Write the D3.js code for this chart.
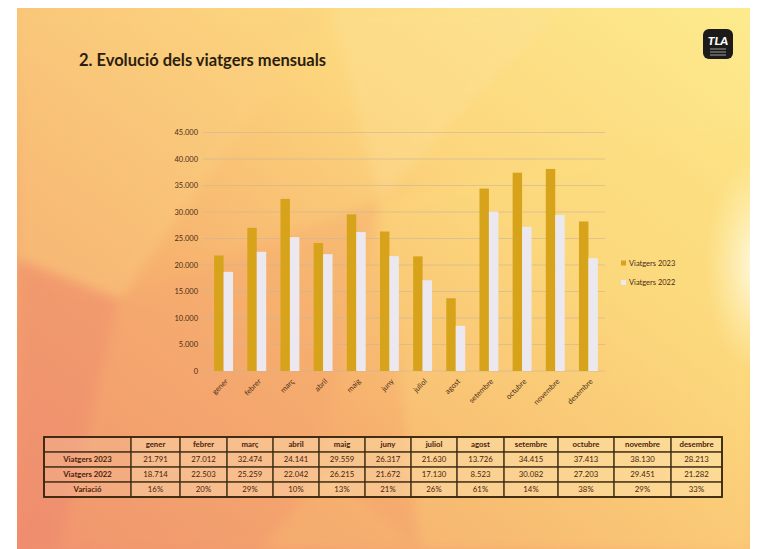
<html>
<head>
    <title>Evolució dels viatgers mensuals</title>
    <script src="https://d3js.org/d3.v7.min.js"></script>
    <style>
        body { margin: 0; background: #ffffff; }
        text { font-family: Lato, "Open Sans", sans-serif; }
    </style>
</head>
<body>
    <svg width="760" height="549"></svg>

    <script>

        // data
        const months = ['gener', 'febrer', 'març', 'abril', 'maig', 'juny', 'juliol', 'agost',
                        'setembre', 'octubre', 'novembre', 'desembre'];
        const viatgers2023 = [21791, 27012, 32474, 24141, 29559, 26317, 21630, 13726, 34415, 37413, 38130, 28213];
        const viatgers2022 = [18714, 22503, 25259, 22042, 26215, 21672, 17130, 8523, 30082, 27203, 29451, 21282];
        const variacio = ['16%', '20%', '29%', '10%', '13%', '21%', '26%', '61%', '14%', '38%', '29%', '33%'];
        const seriesNames = ['Viatgers 2023', 'Viatgers 2022'];
        const yTicks = [0, 5000, 10000, 15000, 20000, 25000, 30000, 35000, 40000, 45000];

        const colors = ['#d7a31b', '#ebe8ef'];
        const inkColor = '#4a2c14';

        const locale = d3.formatLocale({ decimal: ',', thousands: '.', grouping: [3], currency: ['', ''] });
        const fmt = locale.format(',d');

        const svg = d3.select('svg');
        const defs = svg.append('defs');

        // ---- slide background ----
        const grad = defs.append('linearGradient')
            .attr('id', 'bg').attr('x1', '0%').attr('y1', '100%').attr('x2', '100%').attr('y2', '0%');
        grad.append('stop').attr('offset', '0%').attr('stop-color', '#ef8f6f');
        grad.append('stop').attr('offset', '35%').attr('stop-color', '#f6b06e');
        grad.append('stop').attr('offset', '65%').attr('stop-color', '#fcd57c');
        grad.append('stop').attr('offset', '100%').attr('stop-color', '#fdeb8e');

        const glow = defs.append('radialGradient').attr('id', 'glow');
        glow.append('stop').attr('offset', '0%').attr('stop-color', '#fffdf0').attr('stop-opacity', 0.95);
        glow.append('stop').attr('offset', '100%').attr('stop-color', '#fff6c0').attr('stop-opacity', 0);

        const blur = defs.append('filter').attr('id', 'soft')
            .attr('x', '-10%').attr('y', '-10%').attr('width', '120%').attr('height', '120%');
        blur.append('feGaussianBlur').attr('stdDeviation', 6);

        const clip = defs.append('clipPath').attr('id', 'slideClip');

        const slide = { x: 17, y: 8, w: 733, h: 541 };
        clip.append('rect')
            .attr('x', slide.x).attr('y', slide.y)
            .attr('width', slide.w).attr('height', slide.h);

        svg.append('rect')
            .attr('x', slide.x).attr('y', slide.y)
            .attr('width', slide.w).attr('height', slide.h)
            .attr('fill', 'url(#bg)');

        // a few faint facets, like the low-poly template
        const facets = [
            { pts: [[17, 8], [330, 8], [120, 300], [17, 260]], fill: '#fbd083', op: 0.4 },
            { pts: [[17, 260], [120, 300], [60, 549], [17, 549]], fill: '#ee8a6e', op: 0.45 },
            { pts: [[330, 8], [560, 8], [380, 200]], fill: '#fde3a0', op: 0.3 },
            { pts: [[120, 300], [380, 200], [300, 549], [60, 549]], fill: '#f4a26e', op: 0.3 },
            { pts: [[380, 200], [750, 120], [750, 549], [420, 549]], fill: '#fde17e', op: 0.25 },
            { pts: [[260, 549], [330, 470], [420, 549]], fill: '#f7b870', op: 0.45 }
        ];
        svg.append('g')
            .attr('clip-path', 'url(#slideClip)')
            .selectAll('polygon')
            .data(facets)
            .join('polygon')
            .attr('points', d => d.pts.map(p => p.join(',')).join(' '))
            .attr('fill', d => d.fill)
            .attr('opacity', d => d.op)
            .attr('filter', 'url(#soft)');

        svg.append('ellipse')
            .attr('clip-path', 'url(#slideClip)')
            .attr('cx', 760).attr('cy', 265)
            .attr('rx', 55).attr('ry', 110)
            .attr('fill', 'url(#glow)');

        // ---- title and logo ----
        svg.append('text')
            .attr('x', 79).attr('y', 66)
            .attr('font-size', 16.5).attr('font-weight', 700)
            .attr('fill', '#2b1e0e')
            .text('2. Evolució dels viatgers mensuals');

        const logo = svg.append('g').attr('transform', 'translate(703,29)');
        logo.append('rect').attr('width', 30).attr('height', 30).attr('rx', 6).attr('fill', '#1d1b19');
        logo.append('text')
            .attr('x', 15).attr('y', 16).attr('text-anchor', 'middle')
            .attr('font-size', 12).attr('font-weight', 900).attr('font-style', 'italic')
            .attr('fill', '#ffffff').text('TLA');
        logo.selectAll('line.sub')
            .data([20, 23, 26])
            .join('line')
            .attr('class', 'sub')
            .attr('x1', 7).attr('x2', 23)
            .attr('y1', d => d).attr('y2', d => d)
            .attr('stroke', '#8b8a86').attr('stroke-width', 1.2);

        // ---- bar chart ----
        const plot = { left: 207, right: 605, top: 132.5, bottom: 371 };

        const x = d3.scaleBand()
            .domain(months)
            .range([plot.left, plot.right])
            .paddingInner(0.43)
            .paddingOuter(0.215);

        const xSub = d3.scaleBand()
            .domain(seriesNames)
            .range([0, x.bandwidth()]);

        const y = d3.scaleLinear()
            .domain([0, 45000])
            .range([plot.bottom, plot.top]);

        const chartG = svg.append('g');

        chartG.append('g')
            .selectAll('line')
            .data(yTicks)
            .join('line')
            .attr('x1', plot.left - 4).attr('x2', plot.right)
            .attr('y1', d => y(d)).attr('y2', d => y(d))
            .attr('stroke', '#c9b49c').attr('stroke-opacity', 0.6).attr('stroke-width', 1);

        const yAxis = d3.axisLeft(y)
            .tickValues(yTicks)
            .tickFormat(fmt)
            .tickSize(0)
            .tickPadding(9);

        chartG.append('g')
            .attr('transform', `translate(${plot.left},0)`)
            .call(yAxis)
            .call(g => g.select('.domain').remove())
            .call(g => g.selectAll('text')
                .attr('font-size', 7.5)
                .attr('fill', inkColor));

        const rows = months.map((m, i) => ({ month: m, values: [viatgers2023[i], viatgers2022[i]] }));

        chartG.append('g')
            .selectAll('g')
            .data(rows)
            .join('g')
            .attr('transform', d => `translate(${x(d.month)},0)`)
            .selectAll('rect')
            .data(d => d.values.map((v, k) => ({ key: seriesNames[k], value: v, k })))
            .join('rect')
            .attr('x', d => xSub(d.key))
            .attr('width', xSub.bandwidth())
            .attr('y', d => y(d.value))
            .attr('height', d => y(0) - y(d.value))
            .attr('fill', d => colors[d.k]);

        const xAxis = d3.axisBottom(x).tickSize(0).tickPadding(0);

        chartG.append('g')
            .attr('transform', `translate(0,${plot.bottom + 9})`)
            .call(xAxis)
            .call(g => g.select('.domain').remove())
            .call(g => g.selectAll('text')
                .attr('font-size', 7.5)
                .attr('fill', inkColor)
                .attr('text-anchor', 'end')
                .attr('dy', '0.35em')
                .attr('transform', 'translate(3,0) rotate(-45)'));

        // legend
        const legend = svg.append('g').attr('transform', 'translate(621,263)');
        const legendItem = legend.selectAll('g')
            .data(seriesNames)
            .join('g')
            .attr('transform', (d, i) => `translate(0,${i * 19.5})`);
        legendItem.append('rect')
            .attr('x', 0).attr('y', -2.5)
            .attr('width', 5).attr('height', 5)
            .attr('fill', (d, i) => colors[i]);
        legendItem.append('text')
            .attr('x', 8).attr('dy', '0.35em')
            .attr('font-size', 7.5)
            .attr('fill', inkColor)
            .text(d => d);

        // ---- data table ----
        const colWidths = [87, 49, 47, 46, 46, 46, 46, 46, 47, 54, 56, 57, 51];
        const colX = [44];
        colWidths.forEach((w, i) => colX.push(colX[i] + w));
        const rowH = 15;
        const tableTop = 437;

        const tableRows = [
            { label: '', cells: months, bold: true },
            { label: 'Viatgers 2023', cells: viatgers2023.map(fmt), bold: false },
            { label: 'Viatgers 2022', cells: viatgers2022.map(fmt), bold: false },
            { label: 'Variació', cells: variacio, bold: false }
        ];

        const tableG = svg.append('g');

        tableRows.forEach((row, r) => {
            const ry = tableTop + r * rowH;
            const rowG = tableG.append('g');
            const all = [row.label].concat(row.cells);
            rowG.selectAll('rect')
                .data(all)
                .join('rect')
                .attr('x', (d, c) => colX[c])
                .attr('y', ry)
                .attr('width', (d, c) => colWidths[c])
                .attr('height', rowH)
                .attr('fill', (d, c) => c === 0 ? '#f6c6a4' : '#fff1c8')
                .attr('fill-opacity', 0.35)
                .attr('stroke', '#3e2a12')
                .attr('stroke-width', 1.1);
            rowG.selectAll('text')
                .data(all)
                .join('text')
                .attr('x', (d, c) => colX[c] + colWidths[c] / 2)
                .attr('y', ry + rowH / 2)
                .attr('dy', '0.35em')
                .attr('text-anchor', 'middle')
                .attr('font-size', 7.8)
                .attr('font-weight', (d, c) => (c === 0 || row.bold) ? 700 : 400)
                .attr('fill', '#4a1e0c')
                .text(d => d);
        });

        // outer border, a little heavier
        tableG.append('rect')
            .attr('x', colX[0]).attr('y', tableTop)
            .attr('width', colX[colX.length - 1] - colX[0])
            .attr('height', rowH * tableRows.length)
            .attr('fill', 'none')
            .attr('stroke', '#3a2710')
            .attr('stroke-width', 1.8);

    </script>
</body>
</html>
